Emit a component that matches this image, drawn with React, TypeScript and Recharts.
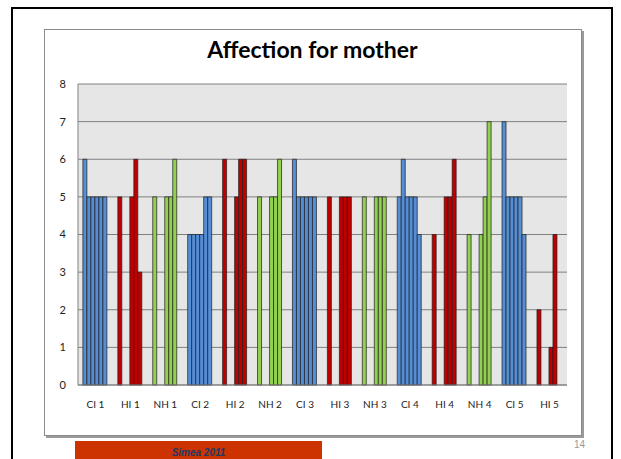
import React from "react"
import { BarChart, Bar, Cell, CartesianGrid, XAxis, YAxis } from "recharts"

// categories along the x axis
const categories = ["CI 1", "HI 1", "NH 1", "CI 2", "HI 2", "NH 2", "CI 3", "HI 3", "NH 3", "CI 4", "HI 4", "NH 4", "CI 5", "HI 5"]

// six bars per category
const s1 = [6, 5, 5, 4, 6, 5, 6, 5, 5, 5, 4, 4, 7, 2]
const s2 = [5, 0, 0, 4, 0, 0, 5, 0, 0, 6, 0, 0, 5, 0]
const s3 = [5, 0, 0, 4, 0, 0, 5, 0, 0, 5, 0, 0, 5, 0]
const s4 = [5, 5, 5, 4, 5, 5, 5, 5, 5, 5, 5, 4, 5, 1]
const s5 = [5, 6, 5, 5, 6, 5, 5, 5, 5, 5, 5, 5, 5, 4]
const s6 = [5, 3, 6, 5, 6, 6, 5, 5, 5, 4, 6, 7, 4, 0]

const yTicks = [0, 1, 2, 3, 4, 5, 6, 7, 8]

const series = [s1, s2, s3, s4, s5, s6]
const keys = ["s1", "s2", "s3", "s4", "s5", "s6"]

const groupColor: Record<string, string> = { CI: "#558ED5", HI: "#C00000", NH: "#92D050" }

const data = categories.map((c, i) => {
  const row: Record<string, string | number> = { name: c }
  series.forEach((s, k) => { row[keys[k]] = s[i] })
  return row
})

const font = "Lato, 'Open Sans', sans-serif"

export default function App() {
  return (
    <div style={{ position: "absolute", left: 0, top: 0, width: 621, height: 459, overflow: "hidden", background: "#fff", fontFamily: font }}>
      {/* slide frame */}
      <div style={{ position: "absolute", left: 11, top: 7, width: 598, height: 480, border: "2px solid #000" }} />

      {/* chart box */}
      <div style={{ position: "absolute", left: 44, top: 29, width: 536, height: 405, border: "1px solid #8c8c8c", boxShadow: "2px 2px 0 #9a9a9a", background: "#fff" }} />

      <div style={{ position: "absolute", left: 44, top: 35, width: 537, textAlign: "center", fontWeight: 700, fontSize: 23, color: "#000" }}>
        Affection for mother
      </div>

      <div style={{ position: "absolute", left: 44, top: 29 }}>
        <BarChart width={537} height={407} data={data} margin={{ top: 55, right: 14, bottom: 21, left: 0 }} barCategoryGap="14%" barGap={0}>
          <CartesianGrid vertical={false} stroke="#808080" fill="#E6E6E6" />
          <XAxis dataKey="name" tickLine={false} axisLine={{ stroke: "#808080" }} height={30} tickMargin={10} interval={0}
            tick={{ fontSize: 10, fill: "#222", fontFamily: font }} />
          <YAxis domain={[0, 8]} ticks={yTicks} tickLine={false} axisLine={{ stroke: "#808080" }} width={34} tickMargin={6}
            tick={{ fontSize: 11, fill: "#222", fontFamily: font }} />
          {keys.map((k) => (
            <Bar key={k} dataKey={k} isAnimationActive={false} stroke="#1e1e1e" strokeWidth={0.7}>
              {categories.map((c) => (
                <Cell key={c} fill={groupColor[c.slice(0, 2)]} />
              ))}
            </Bar>
          ))}
        </BarChart>
      </div>

      {/* footer */}
      <div style={{ position: "absolute", left: 75, top: 441, width: 247, height: 20, background: "#CC3300" }}>
        <div style={{ textAlign: "center", fontStyle: "italic", fontWeight: 700, fontSize: 10, color: "#1F3864", fontFamily: "'Liberation Sans', Arial, sans-serif", marginTop: 6 }}>
          Simea 2011
        </div>
      </div>
      <div style={{ position: "absolute", left: 574, top: 439, fontSize: 10, color: "#999", fontFamily: "'Liberation Sans', Arial, sans-serif" }}>14</div>
    </div>
  )
}
